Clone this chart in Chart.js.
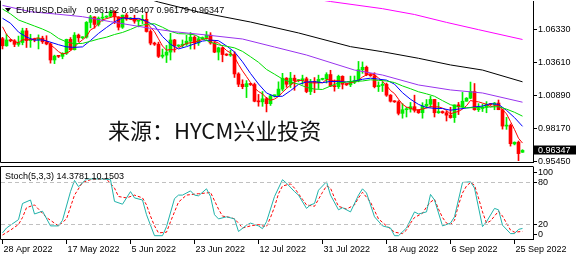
<!DOCTYPE html>
<html>
<head>
<meta charset="utf-8">
<title>EURUSD Daily</title>
<script src="https://cdn.jsdelivr.net/npm/chart.js@4.4.0/dist/chart.umd.min.js"></script>
<style>
  body { margin: 0; background: #fff; }
  #wrap { position: relative; width: 576px; height: 258px; overflow: hidden; background: #fff; }
  #main { position: absolute; left: 0; top: 0; }
  #stoch { position: absolute; left: 0; top: 166px; }
  .txt { position: absolute; font-family: "Liberation Sans", Arial, sans-serif; font-size: 9px; line-height: 1; color: #000; white-space: pre; }
  #tri { position: absolute; left: 5px; top: 8px; width: 0; height: 0;
         border-left: 3.5px solid transparent; border-right: 3.5px solid transparent; border-top: 4px solid #000; }
  #mark { position: absolute; left: 108px; top: 118px; font-family: "Noto Sans CJK SC", sans-serif;
          font-size: 22px; line-height: 1; color: #111; white-space: pre; }
</style>
</head>
<body>
<div id="wrap">
  <canvas id="main" width="576" height="166"></canvas>
  <canvas id="stoch" width="576" height="92"></canvas>
  <div id="tri"></div>
  <div class="txt" style="left:16px;top:6px;">EURUSD,Daily</div>
  <div class="txt" style="left:86.5px;top:6px;">0.96192 0.96407 0.96179 0.96347</div>
  <div class="txt" style="left:5px;top:171.5px;">Stoch(5,3,3) 14.3781 10.1503</div>
  <div id="mark">来源：HYCM兴业投资</div>
</div>
<script>
// daily bars 28 Apr 2022 .. 27 Sep 2022 (broker has Sunday bars)
const opens = [1.0556,1.0497,1.0545,1.0538,1.0509,1.0524,1.0620,1.0540,1.0550,1.0545,
  1.0560,1.0530,1.0512,1.0380,1.0412,1.0410,1.0435,1.0550,1.0465,1.0585,
  1.0563,1.0568,1.0690,1.0735,1.0673,1.0725,1.0733,1.0740,1.0780,1.0735,
  1.0650,1.0750,1.0718,1.0722,1.0700,1.0705,1.0715,1.0615,1.0519,1.0510,
  1.0410,1.0420,1.0445,1.0545,1.0495,1.0500,1.0510,1.0535,1.0568,1.0520,
  1.0555,1.0565,1.0585,1.0520,1.0445,1.0480,1.0425,1.0420,1.0425,1.0265,
  1.0180,1.0160,1.0185,1.0178,1.0040,1.0035,1.0060,1.0020,1.0085,1.0088,
  1.0140,1.0230,1.0180,1.0230,1.0210,1.0212,1.0225,1.0120,1.0200,1.0195,
  1.0220,1.0225,1.0260,1.0165,1.0160,1.0245,1.0180,1.0175,1.0195,1.0210,
  1.0300,1.0320,1.0260,1.0250,1.0160,1.0170,1.0180,1.0090,1.0040,1.0035,
  0.9940,0.9970,0.9975,0.9995,0.9965,0.9945,1.0000,1.0015,1.0055,0.9945,
  0.9955,0.9945,0.9925,0.9905,1.0010,0.9995,1.0040,1.0065,1.0120,0.9970,
  0.9980,0.9990,1.0015,1.0012,1.0025,0.9970,0.9835,0.9840,0.9688,0.9702,
  0.96192];
const highs = [1.0567,1.0594,1.0550,1.0548,1.0577,1.0642,1.0641,1.0592,1.0560,1.0587,
  1.0576,1.0580,1.0523,1.0420,1.0418,1.0440,1.0552,1.0565,1.0606,1.0594,
  1.0572,1.0697,1.0748,1.0737,1.0735,1.0765,1.0745,1.0787,1.0787,1.0737,
  1.0750,1.0764,1.0730,1.0749,1.0710,1.0749,1.0774,1.0630,1.0527,1.0527,
  1.0470,1.0500,1.0600,1.0550,1.0505,1.0545,1.0583,1.0606,1.0580,1.0570,
  1.0570,1.0615,1.0605,1.0530,1.0486,1.0485,1.0432,1.0460,1.0448,1.0275,
  1.0217,1.0210,1.0190,1.0190,1.0096,1.0120,1.0072,1.0096,1.0092,1.0200,
  1.0270,1.0235,1.0278,1.0255,1.0218,1.0255,1.0238,1.0220,1.0235,1.0255,
  1.0230,1.0275,1.0295,1.0215,1.0255,1.0250,1.0185,1.0247,1.0248,1.0368,
  1.0364,1.0330,1.0265,1.0275,1.0200,1.0200,1.0190,1.0095,1.0045,1.0045,
  1.0020,0.9990,1.0030,1.0090,0.9970,1.0028,1.0054,1.0080,1.0055,1.0030,
  0.9960,0.9960,0.9990,1.0010,1.0030,1.0113,1.0070,1.0198,1.0186,1.0020,
  1.0017,1.0037,1.0020,1.0030,1.0050,0.9975,0.9907,0.9852,0.9705,0.9712,
  0.96407];
const lows = [1.0471,1.0493,1.0530,1.0490,1.0493,1.0505,1.0483,1.0484,1.0530,1.0471,
  1.0516,1.0505,1.0354,1.0350,1.0400,1.0390,1.0425,1.0460,1.0462,1.0532,
  1.0555,1.0560,1.0645,1.0643,1.0660,1.0700,1.0725,1.0730,1.0680,1.0627,
  1.0640,1.0707,1.0712,1.0683,1.0653,1.0680,1.0610,1.0505,1.0500,1.0400,
  1.0396,1.0359,1.0380,1.0445,1.0490,1.0485,1.0500,1.0470,1.0470,1.0500,
  1.0550,1.0550,1.0510,1.0440,1.0380,1.0365,1.0415,1.0410,1.0236,1.0160,
  1.0143,1.0070,1.0170,1.0035,0.9999,0.9998,0.9952,1.0005,1.0075,1.0080,
  1.0125,1.0155,1.0153,1.0130,1.0200,1.0180,1.0110,1.0095,1.0110,1.0145,
  1.0215,1.0190,1.0160,1.0123,1.0145,1.0141,1.0170,1.0160,1.0185,1.0200,
  1.0270,1.0250,1.0245,1.0150,1.0120,1.0120,1.0080,1.0033,1.0030,0.9927,
  0.9900,0.9910,0.9950,0.9950,0.9940,0.9900,0.9985,0.9990,0.9910,0.9940,
  0.9940,0.9877,0.9900,0.9865,0.9930,0.9990,1.0040,1.0060,0.9966,0.9955,
  0.9955,0.9945,1.0005,0.9970,0.9970,0.9810,0.9808,0.9670,0.9680,0.9550,
  0.96179];
const closes = [1.0497,1.0545,1.0538,1.0509,1.0524,1.0620,1.0540,1.0550,1.0545,1.0560,
  1.0530,1.0512,1.0380,1.0412,1.0410,1.0435,1.0550,1.0465,1.0585,1.0563,
  1.0568,1.0690,1.0735,1.0673,1.0725,1.0733,1.0740,1.0780,1.0735,1.0650,
  1.0750,1.0718,1.0722,1.0700,1.0705,1.0715,1.0615,1.0519,1.0510,1.0410,
  1.0420,1.0445,1.0545,1.0495,1.0500,1.0510,1.0535,1.0568,1.0520,1.0555,
  1.0565,1.0585,1.0520,1.0445,1.0480,1.0425,1.0420,1.0425,1.0265,1.0180,
  1.0160,1.0185,1.0178,1.0040,1.0035,1.0060,1.0020,1.0085,1.0088,1.0140,
  1.0230,1.0180,1.0230,1.0210,1.0212,1.0225,1.0120,1.0200,1.0195,1.0220,
  1.0225,1.0260,1.0165,1.0160,1.0245,1.0180,1.0175,1.0195,1.0210,1.0300,
  1.0320,1.0260,1.0250,1.0160,1.0170,1.0180,1.0090,1.0040,1.0035,0.9940,
  0.9970,0.9975,0.9995,0.9965,0.9945,1.0000,1.0015,1.0055,0.9945,0.9955,
  0.9945,0.9925,0.9905,1.0010,0.9995,1.0040,1.0065,1.0120,0.9970,0.9980,
  0.9990,1.0015,1.0012,1.0025,0.9970,0.9835,0.9840,0.9690,0.9702,0.9608,
  0.96347];

const tickIdx = [0, 16, 32, 48, 64, 80, 96, 112, 128];
const tickLabels = ['28 Apr 2022', '17 May 2022', '5 Jun 2022', '23 Jun 2022', '12 Jul 2022',
  '31 Jul 2022', '18 Aug 2022', '6 Sep 2022', '25 Sep 2022'];
const priceTicks = [1.06330, 1.03610, 1.00890, 0.98170, 0.95450];

// moving averages
const ma5 = [1.0654,1.0591,1.0555,1.0530,1.0523,1.0547,1.0546,1.0549,1.0556,1.0563,
  1.0545,1.0539,1.0505,1.0479,1.0449,1.0430,1.0437,1.0454,1.0489,1.0520,
  1.0546,1.0574,1.0628,1.0646,1.0678,1.0711,1.0721,1.0730,1.0743,1.0728,
  1.0731,1.0727,1.0715,1.0708,1.0719,1.0712,1.0691,1.0651,1.0613,1.0554,
  1.0495,1.0461,1.0466,1.0463,1.0481,1.0499,1.0517,1.0522,1.0527,1.0538,
  1.0549,1.0559,1.0549,1.0534,1.0519,1.0491,1.0458,1.0439,1.0403,1.0343,
  1.0290,1.0243,1.0194,1.0149,1.0120,1.0100,1.0067,1.0048,1.0058,1.0079,
  1.0113,1.0145,1.0174,1.0198,1.0212,1.0211,1.0199,1.0193,1.0190,1.0192,
  1.0192,1.0220,1.0213,1.0206,1.0211,1.0202,1.0185,1.0191,1.0201,1.0212,
  1.0240,1.0257,1.0268,1.0258,1.0232,1.0204,1.0170,1.0128,1.0103,1.0057,
  1.0015,0.9992,0.9983,0.9969,0.9970,0.9976,0.9984,0.9996,0.9992,0.9994,
  0.9983,0.9965,0.9935,0.9948,0.9956,0.9975,1.0003,1.0046,1.0038,1.0035,
  1.0025,1.0015,0.9993,1.0004,1.0002,0.9971,0.9936,0.9872,0.9807,0.9735,
  0.9695];
const ma10Idx = [0,2,4,6,8,10,12,14,16,18,20,22,24,26,28,30,32,34,36,38,40,42,44,46,48,50,52,54,56,58,60,62,64,
  66,68,70,72,74,76,78,80,82,84,86,88,90,92,94,96,98,100,102,104,106,108,110,112,114,116,118,120,122,124,126,128,130];
const ma10 = [1.0724,1.0683,1.0610,1.0569,1.0543,1.0546,1.0527,1.0506,1.0488,1.0484,1.0488,1.0541,1.0599,1.0648,
  1.0695,1.0726,1.0722,1.0723,1.0700,1.0663,1.0573,1.0510,1.0471,1.0490,1.0513,1.0536,1.0544,1.0539,1.0496,
  1.0447,1.0365,1.0269,1.0182,1.0108,1.0079,1.0081,1.0127,1.0179,1.0199,1.0201,1.0193,1.0203,1.0202,1.0199,
  1.0206,1.0221,1.0230,1.0222,1.0214,1.0181,1.0110,1.0056,1.0014,0.9988,0.9981,0.9980,0.9966,0.9975,0.9984,
  0.9993,1.0000,1.0020,1.0014,0.9965,0.9905,0.9833];
const ma20Idx = ma10Idx;
const ma20 = [1.0800,1.0760,1.0710,1.0685,1.0660,1.0635,1.0605,1.0558,1.0529,1.0514,1.0517,1.0534,1.0553,1.0568,
  1.0590,1.0607,1.0632,1.0661,1.0674,1.0679,1.0650,1.0616,1.0597,1.0595,1.0588,1.0555,1.0527,1.0505,1.0493,
  1.0480,1.0451,1.0407,1.0361,1.0302,1.0263,1.0223,1.0198,1.0181,1.0154,1.0140,1.0137,1.0165,1.0191,1.0199,
  1.0204,1.0207,1.0217,1.0212,1.0207,1.0194,1.0166,1.0143,1.0118,1.0101,1.0081,1.0045,1.0011,0.9995,0.9986,
  0.9987,0.9990,0.9993,0.9995,0.9975,0.9949,0.9917];
const ma50Idx = [0, 7, 13, 20, 27, 37, 43, 51, 60, 68, 76, 88, 95, 104, 112, 120, 130];
const ma50 = [1.0830, 1.0778, 1.0760, 1.0737, 1.0696, 1.0641, 1.0613, 1.0586, 1.0553, 1.0487, 1.0421,
  1.0297, 1.0256, 1.0174, 1.0133, 1.0108, 1.0032];
const ma100Idx = [30, 39, 49, 62, 74, 87, 95, 104, 112, 120, 130];
const ma100 = [1.0950, 1.0858, 1.0776, 1.0693, 1.0603, 1.0490, 1.0448, 1.0394, 1.0339, 1.0297, 1.0200];
const ma200Idx = [75, 82, 95, 103, 111, 119, 130];
const ma200 = [1.0900, 1.0862, 1.0803, 1.0755, 1.0690, 1.0630, 1.0549];

// Stochastic(5,3,3)
const stochKIdx = [0,1,4,5,7,8,10,12,14,15,17,18,19,21,25,27,28,30,32,33,35,36,38,40,41,43,44,45,47,48,49,51,52,53,
  54,56,58,59,61,62,64,65,66,68,70,71,73,74,76,77,78,79,81,82,84,85,87,89,90,91,93,95,97,98,99,101,103,104,106,
  107,108,110,112,113,115,117,118,120,121,123,124,125,127,128,129,130];
const stochK = [8,15,27,50,55,35,39,18,18,26,67,83,74,85,85,84,53,49,67,58,55,34,4,4,17,57,62,62,68,62,61,71,60,34,
  28,31,28,10,19,22,18,14,24,60,84,79,67,62,43,48,50,69,81,62,41,44,38,62,71,65,31,18,15,4,4,15,38,35,38,
  63,55,18,22,31,80,81,72,17,24,43,41,19,7,7,13,14.3781];
const stochDIdx = [0,2,4,5,6,8,9,11,13,14,16,17,18,20,22,26,28,29,31,33,35,36,37,38,39,41,42,43,44,46,49,51,52,53,
  54,55,57,58,59,60,62,64,65,66,67,68,69,70,72,73,74,75,76,78,79,80,81,82,83,84,86,88,89,90,92,93,94,96,97,98,
  100,101,102,103,105,106,107,108,109,110,111,112,113,114,115,116,117,118,119,120,121,122,123,124,125,126,127,128,130];
const stochD = [5,12,20,30,44,48,42,30,22,18,28,45,62,80,84,85,72,60,58,62,58,48,32,18,8,9,24,38,52,62,64,65,66,54,
  42,32,30,28,22,15,18,20,18,17,30,45,64,75,78,72,64,56,48,46,56,66,75,72,58,46,42,48,58,66,52,40,28,18,14,9,
  7,12,22,30,36,45,52,56,42,30,22,20,26,48,65,75,80,76,58,38,22,25,32,39,32,22,12,9,10.1503];
const stochLevels = [20, 80];

const X_MIN = -0.375, X_MAX = 132.625;
const BULL = '#00ee00', BEAR = '#ff0000';
const axisFont = { family: "'Liberation Sans', Arial, sans-serif", size: 9 };

function pts(idx, vals) {
  return vals.map((v, k) => ({ x: idx[k], y: v }));
}
function maLine(idx, vals, color) {
  return { type: 'line', data: pts(idx, vals), borderColor: color, borderWidth: 1,
           pointRadius: 0, tension: 0, fill: false, order: 1 };
}
// keep the plot box where MT4 has it: no extra room for edge labels
function noPad(ax) {
  ax.paddingTop = 0; ax.paddingBottom = 0; ax.paddingLeft = 0; ax.paddingRight = 0;
}

// frame round the plot area
const framePlugin = {
  id: 'frame',
  afterDraw(chart, args, opts) {
    const a = chart.chartArea, ctx = chart.ctx;
    ctx.save();
    ctx.strokeStyle = '#000';
    ctx.lineWidth = 1;
    ctx.beginPath();
    if (opts.top) { ctx.moveTo(a.left - 0.5, a.top - 0.5); ctx.lineTo(a.right + 0.5, a.top - 0.5); }
    ctx.moveTo(a.left - 0.5, a.top - 0.5); ctx.lineTo(a.left - 0.5, a.bottom + 0.5);
    ctx.lineTo(a.right + 0.5, a.bottom + 0.5);
    ctx.stroke();
    ctx.restore();
  }
};

// black box with the last close on the price axis
const lastPricePlugin = {
  id: 'lastPrice',
  afterDraw(chart) {
    const y = Math.round(chart.scales.y.getPixelForValue(closes[closes.length - 1]));
    const ctx = chart.ctx;
    ctx.save();
    ctx.fillStyle = '#000';
    ctx.fillRect(534, y - 4.5, 42, 9);
    ctx.fillStyle = '#fff';
    ctx.font = "9px 'Liberation Sans', Arial, sans-serif";
    ctx.textBaseline = 'middle';
    ctx.fillText(closes[closes.length - 1].toFixed(5), 538, y + 0.5);
    ctx.restore();
  }
};

// MT4 pulls the 100 and 0 labels inside the sub window
const edgeLabelsPlugin = {
  id: 'edgeLabels',
  afterDraw(chart) {
    const s = chart.scales.y, ctx = chart.ctx;
    const items = [[100, 3.5], [0, -5]];
    ctx.save();
    ctx.fillStyle = '#000';
    ctx.strokeStyle = '#000';
    ctx.font = "9px 'Liberation Sans', Arial, sans-serif";
    ctx.textBaseline = 'middle';
    items.forEach(([v, off]) => {
      const y = Math.round(s.getPixelForValue(v) + off) + 0.5;
      ctx.beginPath(); ctx.moveTo(533, y); ctx.lineTo(537, y); ctx.stroke();
      ctx.fillText(String(v), 538, y);
    });
    ctx.restore();
  }
};

const candleColors = closes.map((c, i) => c >= opens[i] ? BULL : BEAR);

new Chart(document.getElementById('main'), {
  type: 'bar',
  data: {
    datasets: [
      { type: 'bar', data: closes.map((c, i) => ({ x: i, y: [lows[i], highs[i]] })),
        backgroundColor: candleColors, barThickness: 1, grouped: false, borderWidth: 0, order: 10 },
      { type: 'bar', data: closes.map((c, i) => ({ x: i, y: [opens[i], c] })),
        backgroundColor: candleColors, barThickness: 3, minBarLength: 1, grouped: false, borderWidth: 0, order: 9 },
      maLine(ma200Idx, ma200, '#ff00ff'),
      maLine(ma100Idx, ma100, '#000000'),
      maLine(ma50Idx, ma50, '#9933ee'),
      maLine(ma20Idx, ma20, '#00dd00'),
      maLine(ma10Idx, ma10, '#0000ff'),
      maLine(ma5.map((v, i) => i), ma5, '#ff0000')
    ]
  },
  options: {
    responsive: false,
    animation: false,
    events: [],
    layout: { padding: { left: 1, top: 1, right: 0, bottom: 4 } },
    plugins: { legend: { display: false }, tooltip: { enabled: false }, frame: { top: false } },
    scales: {
      x: { type: 'linear', min: X_MIN, max: X_MAX, offset: false, display: false, grid: { offset: false } },
      y: {
        position: 'right', min: 0.95390, max: 1.08663,
        afterBuildTicks: ax => { ax.ticks = priceTicks.map(v => ({ value: v })); },
        afterFit: ax => { ax.width = 43; noPad(ax); },
        ticks: { font: axisFont, color: '#000', padding: 1, callback: v => Number(v).toFixed(5) },
        grid: { drawOnChartArea: false, tickLength: 4, color: '#000' },
        border: { display: true, color: '#000' }
      }
    }
  },
  plugins: [framePlugin, lastPricePlugin]
});

const levelSets = stochLevels.map(l => ({
  data: [{ x: X_MIN, y: l }, { x: X_MAX, y: l }], borderColor: '#c0c0c0', borderWidth: 1,
  borderDash: [4, 3], pointRadius: 0, tension: 0, fill: false
}));

new Chart(document.getElementById('stoch'), {
  type: 'line',
  data: {
    datasets: [
      ...levelSets,
      { data: pts(stochKIdx, stochK), borderColor: '#20b2aa', borderWidth: 1, pointRadius: 0, tension: 0, fill: false },
      { data: pts(stochDIdx, stochD), borderColor: '#ff0000', borderWidth: 1, borderDash: [3, 2], pointRadius: 0, tension: 0, fill: false }
    ]
  },
  options: {
    responsive: false,
    animation: false,
    events: [],
    layout: { padding: { left: 1, top: 1, right: 0, bottom: 0 } },
    plugins: { legend: { display: false }, tooltip: { enabled: false }, frame: { top: true } },
    scales: {
      x: {
        type: 'linear', min: X_MIN, max: X_MAX, offset: false,
        afterBuildTicks: ax => { ax.ticks = tickIdx.map(v => ({ value: v })); },
        afterFit: ax => { ax.height = 19; noPad(ax); },
        ticks: { autoSkip: false, maxRotation: 0, align: 'start', labelOffset: 1, padding: 0,
                 font: axisFont, color: '#000', callback: (v, k) => tickLabels[k] },
        grid: { drawOnChartArea: false, tickLength: 5, color: '#000' },
        border: { display: true, color: '#000' }
      },
      y: {
        position: 'right', min: -0.714, max: 102.14,
        afterBuildTicks: ax => { ax.ticks = [0, 20, 80, 100].map(v => ({ value: v })); },
        afterFit: ax => { ax.width = 43; noPad(ax); },
        ticks: { font: axisFont, color: '#000', padding: 1,
                 callback: v => (v === 20 || v === 80) ? String(v) : '' },
        grid: { drawOnChartArea: false, tickLength: 4,
                color: c => (c.tick && (c.tick.value === 20 || c.tick.value === 80)) ? '#000' : 'rgba(0,0,0,0)' },
        border: { display: true, color: '#000' }
      }
    }
  },
  plugins: [framePlugin, edgeLabelsPlugin]
});
</script>
</body>
</html>
